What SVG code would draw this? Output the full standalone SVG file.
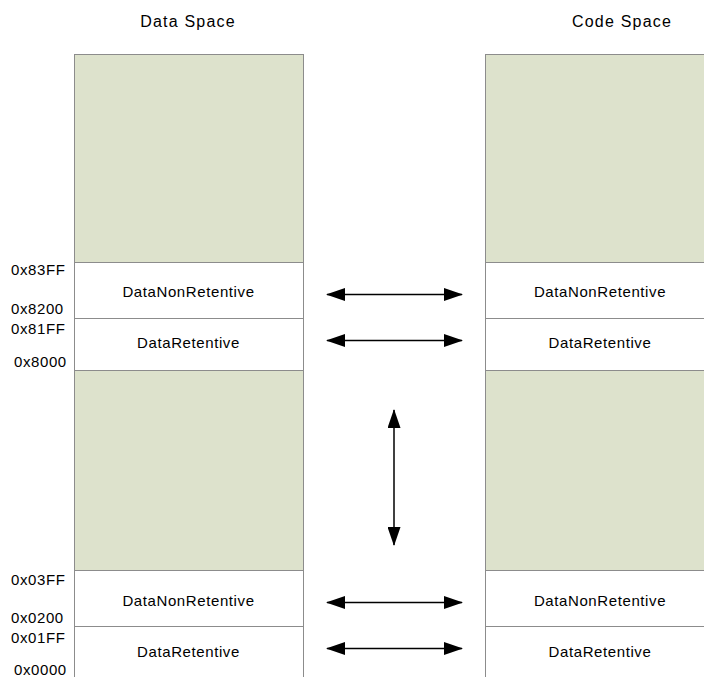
<svg xmlns="http://www.w3.org/2000/svg" width="704" height="677" viewBox="0 0 704 677">
<style>
text{font-family:"Liberation Sans",Arial,sans-serif;font-size:15px;letter-spacing:0.6px;fill:#000}
.t{font-size:16px;letter-spacing:1.2px}
.c{text-anchor:middle}
.g{fill:#dde2cc;stroke:#8c8c8c;stroke-width:1}
.w{fill:#fff;stroke:#8c8c8c;stroke-width:1}
.a{stroke:#000;stroke-width:1.5;fill:none;marker-start:url(#h);marker-end:url(#h)}
</style>
<defs>
<marker id="h" viewBox="0 0 19 13" refX="18" refY="6.5" markerWidth="19" markerHeight="13" markerUnits="userSpaceOnUse" orient="auto-start-reverse">
<path d="M0,0 L19,6.5 L0,13 Z" fill="#000"/>
</marker>
</defs>
<rect width="704" height="677" fill="#fff"/>
<text class="c t" x="188" y="27">Data Space</text>
<text class="c t" x="622" y="27">Code Space</text>
<g id="data-space">
<rect class="g" x="74.5" y="54.5" width="229" height="208"/>
<rect class="w" x="74.5" y="262.5" width="229" height="56"/>
<rect class="w" x="74.5" y="318.5" width="229" height="52"/>
<rect class="g" x="74.5" y="370.5" width="229" height="200"/>
<rect class="w" x="74.5" y="570.5" width="229" height="56"/>
<rect class="w" x="74.5" y="626.5" width="229" height="60"/>
<text class="c" x="188.5" y="297">DataNonRetentive</text>
<text class="c" x="188.5" y="348">DataRetentive</text>
<text class="c" x="188.5" y="606">DataNonRetentive</text>
<text class="c" x="188.5" y="657">DataRetentive</text>
</g>
<g id="code-space">
<rect class="g" x="485.5" y="54.5" width="229" height="208"/>
<rect class="w" x="485.5" y="262.5" width="229" height="56"/>
<rect class="w" x="485.5" y="318.5" width="229" height="52"/>
<rect class="g" x="485.5" y="370.5" width="229" height="200"/>
<rect class="w" x="485.5" y="570.5" width="229" height="56"/>
<rect class="w" x="485.5" y="626.5" width="229" height="60"/>
<text class="c" x="600" y="297">DataNonRetentive</text>
<text class="c" x="600" y="348">DataRetentive</text>
<text class="c" x="600" y="606">DataNonRetentive</text>
<text class="c" x="600" y="657">DataRetentive</text>
</g>
<g id="addresses">
<text x="11" y="275">0x83FF</text>
<text x="11" y="314">0x8200</text>
<text x="11" y="334">0x81FF</text>
<text x="14" y="367">0x8000</text>
<text x="11" y="585">0x03FF</text>
<text x="11" y="623">0x0200</text>
<text x="11" y="643">0x01FF</text>
<text x="14" y="675">0x0000</text>
</g>
<g id="connectors">
<line class="a" x1="327" y1="294.5" x2="462" y2="294.5"/>
<line class="a" x1="327" y1="340.5" x2="462" y2="340.5"/>
<line class="a" x1="394" y1="410" x2="394" y2="545"/>
<line class="a" x1="327" y1="602.5" x2="462" y2="602.5"/>
<line class="a" x1="327" y1="648.5" x2="462" y2="648.5"/>
</g>
</svg>
